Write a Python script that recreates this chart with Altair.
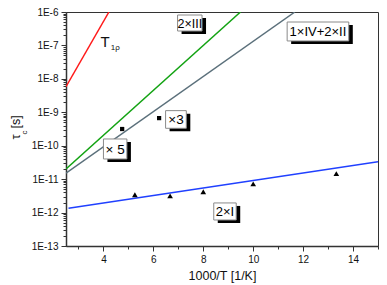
import altair as alt
import pandas as pd

FONT = "Liberation Sans"

# ---- fitted lines (two end points each) ----
line_names = ["T1rho", "2xIII", "1xIV+2xII", "2xI"]
line_x0 = [2.5, 2.5, 2.5, 2.6]
line_y0 = [5.83e-9, 2.01e-11, 1.50e-11, 1.34e-12]
line_x1 = [4.22, 9.49, 11.67, 15.0]
line_y1 = [1e-6, 1e-6, 1e-6, 3.33e-11]
line_colors = ["#ff1a1a", "#13a313", "#5b707b", "#2040ff"]

# ---- measured points ----
tri_x = [5.26, 6.67, 8.0, 10.0, 13.33]
tri_y = [3.4e-12, 3.15e-12, 4.2e-12, 7.2e-12, 1.46e-11]
sq_x = [4.75, 6.23]
sq_y = [3.16e-10, 6.7e-10]

# ---- annotation boxes ----
box_labels = ["2\u00d7III", "1\u00d7IV+2\u00d7II", "\u00d73", "\u00d7 5", "2\u00d7I"]
box_x0 = [6.97, 11.36, 6.49, 4.00, 8.42]
box_x1 = [7.95, 13.83, 7.32, 4.94, 9.32]
box_ytop = [8.13e-7, 5.02e-7, 1.12e-9, 1.59e-10, 1.94e-12]
box_ybot = [2.70e-7, 1.36e-7, 3.32e-10, 4.01e-11, 6.0e-13]
box_font = [12.5, 13, 13.5, 13.5, 13]

# ---- axis ticks ----
x_major_ticks = [4, 6, 8, 10, 12, 14]
x_minor_ticks = [3, 5, 7, 9, 11, 13, 15]
y_decades = [1e-13, 1e-12, 1e-11, 1e-10, 1e-9, 1e-8, 1e-7, 1e-6]
y_minor_mult = [2, 3, 4, 5, 6, 7, 8, 9]
y_minor_ticks = [m * d for d in y_decades[:-1] for m in y_minor_mult]

W, H = 312, 234

lines_rows = []
for n, xa, ya, xb, yb in zip(line_names, line_x0, line_y0, line_x1, line_y1):
    lines_rows.append({"series": n, "x": xa, "y": ya, "o": 0})
    lines_rows.append({"series": n, "x": xb, "y": yb, "o": 1})
lines_df = pd.DataFrame(lines_rows)
tri_df = pd.DataFrame({"x": tri_x, "y": tri_y})
sq_df = pd.DataFrame({"x": sq_x, "y": sq_y})
box_df = pd.DataFrame({
    "label": box_labels, "x0": box_x0, "x1": box_x1,
    "ytop": box_ytop, "ybot": box_ybot, "fs": box_font,
})
box_df["xc"] = (box_df["x0"] + box_df["x1"]) / 2
box_df["yc"] = (box_df["ytop"] * box_df["ybot"]) ** 0.5

xscale = alt.Scale(domain=[2.5, 15], nice=False, zero=False)
yscale = alt.Scale(type="log", domain=[1e-13, 1e-6], nice=False)

x_major = alt.Axis(orient="bottom", values=x_major_ticks, tickSize=5, labelFontSize=10,
                   labelPadding=3, title="1000/T [1/K]", titleFontSize=12.5,
                   titleFontWeight="normal", titlePadding=5, grid=False)
y_major = alt.Axis(orient="left", values=y_decades, tickSize=5, labelFontSize=10,
                   labelPadding=3,
                   labelExpr="'1E' + round(log(datum.value)/LN10)", title=None, grid=False)
x_minor = alt.Axis(orient="bottom", values=x_minor_ticks, tickSize=3, labels=False,
                   domain=False, title=None, grid=False)
y_minor = alt.Axis(orient="left", values=y_minor_ticks, tickSize=3, labels=False,
                   domain=False, title=None, grid=False)

lines = alt.Chart(lines_df).mark_line(clip=True, strokeWidth=1.5).encode(
    x=alt.X("x:Q", scale=xscale, axis=x_major),
    y=alt.Y("y:Q", scale=yscale, axis=y_major),
    color=alt.Color("series:N", scale=alt.Scale(domain=line_names, range=line_colors), legend=None),
    order="o:Q",
)

minor = alt.Chart(tri_df).mark_point(opacity=0).encode(
    x=alt.X("x:Q", scale=xscale, axis=x_minor),
    y=alt.Y("y:Q", scale=yscale, axis=y_minor),
)

tris = alt.Chart(tri_df).mark_point(shape="triangle-up", filled=True, color="black",
                                    opacity=1, size=32).encode(
    x=alt.X("x:Q", scale=xscale, axis=None),
    y=alt.Y("y:Q", scale=yscale, axis=None),
)
sqs = alt.Chart(sq_df).mark_point(shape="square", filled=True, color="black",
                                  opacity=1, size=18).encode(
    x=alt.X("x:Q", scale=xscale, axis=None),
    y=alt.Y("y:Q", scale=yscale, axis=None),
)

shadow = alt.Chart(box_df).mark_rect(color="black", xOffset=4, x2Offset=4,
                                     yOffset=3, y2Offset=3).encode(
    x=alt.X("x0:Q", scale=xscale, axis=None), x2="x1:Q",
    y=alt.Y("ytop:Q", scale=yscale, axis=None), y2="ybot:Q",
)
boxes = alt.Chart(box_df).mark_rect(fill="white", stroke="#8a8a8a", strokeWidth=1).encode(
    x=alt.X("x0:Q", scale=xscale, axis=None), x2="x1:Q",
    y=alt.Y("ytop:Q", scale=yscale, axis=None), y2="ybot:Q",
)
box_text = alt.Chart(box_df).mark_text(font=FONT, color="black", baseline="middle",
                                       align="center", dy=1).encode(
    x=alt.X("xc:Q", scale=xscale, axis=None),
    y=alt.Y("yc:Q", scale=yscale, axis=None),
    text="label:N",
    size=alt.Size("fs:Q", scale=None, legend=None),
)

t_df = pd.DataFrame({"x": [4.07], "y": [9.16e-8], "t": ["T"]})
t_sub_df = pd.DataFrame({"x": [4.29], "y": [7.3e-8], "t": ["1\u03c1"]})
t_main = alt.Chart(t_df).mark_text(font=FONT, fontSize=15, align="center",
                                   baseline="alphabetic", color="#111").encode(
    x=alt.X("x:Q", scale=xscale, axis=None),
    y=alt.Y("y:Q", scale=yscale, axis=None), text="t:N")
t_sub = alt.Chart(t_sub_df).mark_text(font=FONT, fontSize=8, align="left",
                                      baseline="alphabetic", color="#111").encode(
    x=alt.X("x:Q", scale=xscale, axis=None),
    y=alt.Y("y:Q", scale=yscale, axis=None), text="t:N")

one = pd.DataFrame({"a": [0]})
ytitle_tau = alt.Chart(one).mark_text(text="\u03c4", font=FONT, fontSize=13, angle=270,
                                      align="center", baseline="alphabetic", color="#111").encode(
    x=alt.value(-46), y=alt.value(125))
ytitle_c = alt.Chart(one).mark_text(text="c", font=FONT, fontSize=8, angle=270,
                                    align="center", baseline="alphabetic", color="#111").encode(
    x=alt.value(-39.5), y=alt.value(120.5))
ytitle_s = alt.Chart(one).mark_text(text="[s]", font=FONT, fontSize=12.5, angle=270,
                                    align="center", baseline="alphabetic", color="#111").encode(
    x=alt.value(-46), y=alt.value(110))

chart = alt.layer(
    lines, minor, tris, sqs, shadow, boxes, box_text, t_main, t_sub,
    ytitle_tau, ytitle_c, ytitle_s,
).resolve_axis(x="independent", y="independent").properties(
    width=W, height=H,
    autosize=alt.AutoSizeParams(type="none"),
    padding={"left": 58, "top": 4, "right": 1, "bottom": 38},
).configure_view(
    stroke="#333", strokeWidth=1,
).configure_axis(
    labelFont=FONT, titleFont=FONT, labelColor="#111", titleColor="#111",
    domainColor="#333", domainWidth=1.5, tickColor="#333", tickWidth=1,
)

chart.save("out.html", embed_options={"renderer": "svg", "actions": False})
